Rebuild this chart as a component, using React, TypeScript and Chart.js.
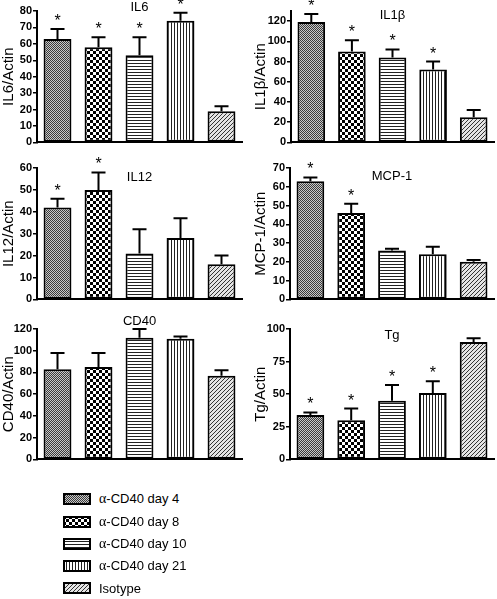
import React, { useEffect, useRef } from 'react';
import { Chart, registerables } from 'chart.js';

Chart.register(...registerables);

const FONT = '"Liberation Sans", Arial, sans-serif';

// ---------- data ----------
const groups = ['α-CD40 day 4', 'α-CD40 day 8', 'α-CD40 day 10', 'α-CD40 day 21', 'Isotype'];

const il6Values = [63, 58, 53, 74, 19];
const il6Errors = [6, 6, 11, 5, 3];
const il6Sig = [true, true, true, true, false];
const il6Ticks = [0, 10, 20, 30, 40, 50, 60, 70, 80];

const il1bValues = [119, 90, 84, 72, 25];
const il1bErrors = [8, 11, 8, 8, 7];
const il1bSig = [true, true, true, true, false];
const il1bTicks = [0, 20, 40, 60, 80, 100, 120];

const il12Values = [42, 50, 21, 28, 16];
const il12Errors = [4, 8, 11, 9, 4];
const il12Sig = [true, true, false, false, false];
const il12Ticks = [0, 10, 20, 30, 40, 50, 60];

const mcp1Values = [63, 46, 26, 24, 20];
const mcp1Errors = [2, 5, 1, 4, 1];
const mcp1Sig = [true, true, false, false, false];
const mcp1Ticks = [0, 10, 20, 30, 40, 50, 60, 70];

const cd40Values = [83, 85, 112, 111, 77];
const cd40Errors = [15, 13, 8, 2, 5];
const cd40Sig = [false, false, false, false, false];
const cd40Ticks = [0, 20, 40, 60, 80, 100, 120];

const tgValues = [34, 30, 45, 51, 90];
const tgErrors = [2, 9, 12, 9, 3];
const tgSig = [true, true, true, true, false];
const tgTicks = [0, 25, 50, 75, 100];

// ---------- patterns ----------
type Kind = 'stipple' | 'checker' | 'hlines' | 'vlines' | 'diag';
const kinds: Kind[] = ['stipple', 'checker', 'hlines', 'vlines', 'diag'];

function makePattern(ctx: CanvasRenderingContext2D, kind: Kind): CanvasPattern | string {
  const c = document.createElement('canvas');
  const g = c.getContext('2d')!;
  if (kind === 'stipple') {
    c.width = 2; c.height = 2;
    g.fillStyle = '#c8c8c8'; g.fillRect(0, 0, 2, 2);
    g.fillStyle = '#3a3a3a'; g.fillRect(0, 0, 1, 1); g.fillRect(1, 1, 1, 1);
  } else if (kind === 'checker') {
    c.width = 6; c.height = 6;
    g.fillStyle = '#fff'; g.fillRect(0, 0, 6, 6);
    g.fillStyle = '#000'; g.fillRect(0, 0, 3, 3); g.fillRect(3, 3, 3, 3);
  } else if (kind === 'hlines') {
    c.width = 3; c.height = 3;
    g.fillStyle = '#fff'; g.fillRect(0, 0, 3, 3);
    g.fillStyle = '#222'; g.fillRect(0, 0, 3, 1);
  } else if (kind === 'vlines') {
    c.width = 3; c.height = 3;
    g.fillStyle = '#fff'; g.fillRect(0, 0, 3, 3);
    g.fillStyle = '#222'; g.fillRect(0, 0, 1, 3);
  } else {
    c.width = 4; c.height = 4;
    g.fillStyle = '#e4e4e4'; g.fillRect(0, 0, 4, 4);
    g.fillStyle = '#333';
    g.fillRect(0, 3, 1, 1); g.fillRect(1, 2, 1, 1); g.fillRect(2, 1, 1, 1); g.fillRect(3, 0, 1, 1);
  }
  return ctx.createPattern(c, 'repeat') || '#888';
}

// ---------- panel ----------
interface PanelProps {
  title: string;
  yLabel: string;
  values: number[];
  errors: number[];
  sig: boolean[];
  ticks: number[];
  max: number;
  left: number;
  top: number;
  width: number;
  height: number;
  axisWidth: number;
  padTop: number;
  padBottom: number;
  padRight: number;
  titleOffset: number;
}

function Panel(p: PanelProps) {
  const ref = useRef<HTMLCanvasElement>(null);
  useEffect(() => {
    const canvas = ref.current!;
    const ctx = canvas.getContext('2d')!;
    const patterns = kinds.map((k) => makePattern(ctx, k));
    const decor = {
      id: 'decor',
      afterDatasetsDraw(chart: any) {
        const c = chart.ctx as CanvasRenderingContext2D;
        const ys = chart.scales.y;
        const meta = chart.getDatasetMeta(0);
        c.save();
        c.strokeStyle = '#000';
        c.fillStyle = '#000';
        c.lineWidth = 2;
        meta.data.forEach((bar: any, i: number) => {
          const x = bar.x;
          const yTop = ys.getPixelForValue(p.values[i]);
          const yErr = ys.getPixelForValue(p.values[i] + p.errors[i]);
          c.beginPath();
          c.moveTo(x, yTop);
          c.lineTo(x, yErr);
          c.moveTo(x - 7, yErr);
          c.lineTo(x + 7, yErr);
          c.stroke();
          if (p.sig[i]) {
            c.font = `16px ${FONT}`;
            c.textAlign = 'center';
            c.textBaseline = 'alphabetic';
            c.fillText('*', x, yErr - 3);
          }
        });
        const ca = chart.chartArea;
        c.font = `13px ${FONT}`;
        c.textAlign = 'center';
        c.textBaseline = 'middle';
        c.fillText(p.title, (ca.left + ca.right) / 2, ca.top + p.titleOffset);
        c.restore();
      },
    };
    const chart = new Chart(ctx, {
      type: 'bar',
      data: {
        labels: groups,
        datasets: [
          {
            data: p.values,
            backgroundColor: patterns as any,
            borderColor: '#000',
            borderWidth: 2,
            borderSkipped: false,
            barPercentage: 0.68,
            categoryPercentage: 1,
          },
        ],
      },
      options: {
        animation: false,
        responsive: false,
        maintainAspectRatio: false,
        layout: { padding: { top: p.padTop, bottom: p.padBottom, left: 0, right: p.padRight } },
        plugins: { legend: { display: false }, tooltip: { enabled: false } },
        scales: {
          x: {
            ticks: { display: false },
            grid: { display: true, drawOnChartArea: false, drawTicks: false },
            border: { display: true, color: '#000', width: 2 },
            afterFit: (s: any) => {
              s.height = 0;
            },
          },
          y: {
            min: 0,
            max: p.max,
            afterBuildTicks: (s: any) => {
              s.ticks = p.ticks.map((v) => ({ value: v }));
            },
            ticks: { font: { size: 11, weight: 'bold', family: FONT }, color: '#000', padding: 1 },
            grid: { display: true, drawOnChartArea: false, drawTicks: true, tickLength: 4, color: '#000', lineWidth: 1.5 },
            border: { display: true, color: '#000', width: 2 },
            title: { display: true, text: p.yLabel, font: { size: 15, family: FONT }, color: '#000', padding: 0 },
            afterFit: (s: any) => {
              s.width = p.axisWidth;
            },
          },
        },
      } as any,
      plugins: [decor],
    });
    return () => chart.destroy();
  }, []);
  return (
    <canvas
      ref={ref}
      width={p.width}
      height={p.height}
      style={{ position: 'absolute', left: p.left, top: p.top, width: p.width, height: p.height }}
    />
  );
}

function Swatch({ kind }: { kind: Kind }) {
  const ref = useRef<HTMLCanvasElement>(null);
  useEffect(() => {
    const c = ref.current!;
    const g = c.getContext('2d')!;
    g.fillStyle = makePattern(g, kind) as any;
    g.fillRect(0, 0, 28, 12);
    g.strokeStyle = '#000';
    g.lineWidth = 2;
    g.strokeRect(1, 1, 26, 10);
  }, []);
  return <canvas ref={ref} width={28} height={12} style={{ display: 'block' }} />;
}

const legendRowY = [499, 522, 544, 566, 588];

export default function App() {
  return (
    <div style={{ position: 'absolute', left: 0, top: 0, width: 497, height: 599, background: '#fff', overflow: 'hidden' }}>
      <Panel title="IL6" yLabel="IL6/Actin" values={il6Values} errors={il6Errors} sig={il6Sig} ticks={il6Ticks} max={80}
        left={0} top={0} width={250} height={150} axisWidth={37} padTop={11} padBottom={3} padRight={8} titleOffset={-4} />
      <Panel title="IL1β" yLabel="IL1β/Actin" values={il1bValues} errors={il1bErrors} sig={il1bSig} ticks={il1bTicks} max={130}
        left={252} top={0} width={245} height={150} axisWidth={39} padTop={11} padBottom={3} padRight={3} titleOffset={4} />
      <Panel title="IL12" yLabel="IL12/Actin" values={il12Values} errors={il12Errors} sig={il12Sig} ticks={il12Ticks} max={60}
        left={0} top={150} width={250} height={157} axisWidth={37} padTop={18} padBottom={3} padRight={8} titleOffset={9} />
      <Panel title="MCP-1" yLabel="MCP-1/Actin" values={mcp1Values} errors={mcp1Errors} sig={mcp1Sig} ticks={mcp1Ticks} max={70}
        left={252} top={150} width={245} height={157} axisWidth={38} padTop={18} padBottom={3} padRight={3} titleOffset={8} />
      <Panel title="CD40" yLabel="CD40/Actin" values={cd40Values} errors={cd40Errors} sig={cd40Sig} ticks={cd40Ticks} max={120}
        left={0} top={307} width={250} height={160} axisWidth={37} padTop={22} padBottom={3} padRight={8} titleOffset={-8} />
      <Panel title="Tg" yLabel="Tg/Actin" values={tgValues} errors={tgErrors} sig={tgSig} ticks={tgTicks} max={100}
        left={252} top={307} width={245} height={160} axisWidth={38} padTop={22} padBottom={3} padRight={3} titleOffset={6} />
      {groups.map((g, i) => (
        <div key={g} style={{ position: 'absolute', left: 63, top: legendRowY[i] - 8, height: 16, display: 'flex', alignItems: 'center', fontFamily: FONT, fontSize: 13, color: '#000', whiteSpace: 'nowrap' }}>
          <Swatch kind={kinds[i]} />
          <span style={{ marginLeft: 8 }}>
            {g.startsWith('α') ? (
              <>
                <span style={{ fontFamily: '"Liberation Serif", "DejaVu Serif", serif', fontSize: 14 }}>α</span>
                {g.slice(1)}
              </>
            ) : (
              g
            )}
          </span>
        </div>
      ))}
    </div>
  );
}
